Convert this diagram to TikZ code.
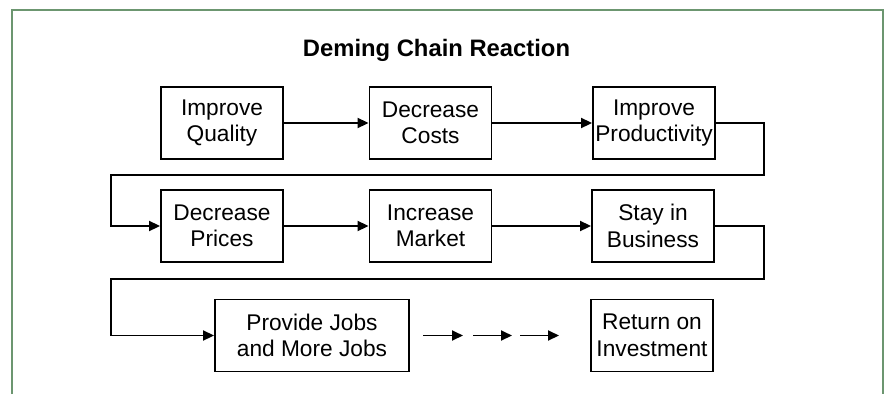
\documentclass[tikz,border=0pt]{standalone}
\usepackage{fontspec}
\setmainfont{Liberation Sans}
\usetikzlibrary{arrows.meta,calc}
\definecolor{framegreen}{RGB}{108,150,112}
\begin{document}
\begin{tikzpicture}[x=1pt,y=-1pt,
  stage/.style={draw=black,line width=1.9pt,fill=white,align=center,
    minimum width=122pt,minimum height=72pt,inner sep=0pt,
    font=\fontsize{22.7}{26.5}\selectfont},
  flow/.style={line width=1.9pt,-{Triangle[length=11pt,width=10pt]}},
  link/.style={line width=1.9pt}]
\useasboundingbox (0,0) rectangle (885,394);
% open frame
\draw[framegreen,line width=2.5pt] (12,394) -- (12,10) -- (883,10) -- (883,394);
% title
\node[font=\fontsize{23.8}{28}\selectfont\bfseries] (title) at (436.5,50) {Deming Chain Reaction};
% first row
\node[stage] (q) at (222,123) {Improve\\Quality};
\node[stage] (c) at (430.5,123) {Decrease\\Costs};
\node[stage] (p) at (654,123) {Improve\\Productivity};
% second row
\node[stage] (pr) at (222,226) {Decrease\\Prices};
\node[stage] (m) at (430.5,226) {Increase\\Market};
\node[stage] (b) at (653,226) {Stay in\\Business};
% third row
\node[stage,minimum width=194pt] (j) at (312,335.5) {Provide Jobs\\and More Jobs};
\node[stage] (r) at (652,335.5) {Return on\\Investment};
% connectors
\draw[flow] (q) -- (c);
\draw[flow] (c) -- (p);
\draw[flow] (p.east) -- ++(48,0) |- (111,175) |- (pr.west);
\draw[flow] (pr) -- (m);
\draw[flow] (m) -- (b);
\draw[flow] (b.east) -- ++(49,0) |- (111,279) |- (j.west);
% chain of short arrows
\coordinate (a1) at (423,335.5); \coordinate (a2) at (463,335.5);
\coordinate (a3) at (473,335.5); \coordinate (a4) at (512,335.5);
\coordinate (a5) at (520,335.5); \coordinate (a6) at (559,335.5);
\draw[flow] (a1) -- (a2);
\draw[flow] (a3) -- (a4);
\draw[flow] (a5) -- (a6);
\end{tikzpicture}
\end{document}
